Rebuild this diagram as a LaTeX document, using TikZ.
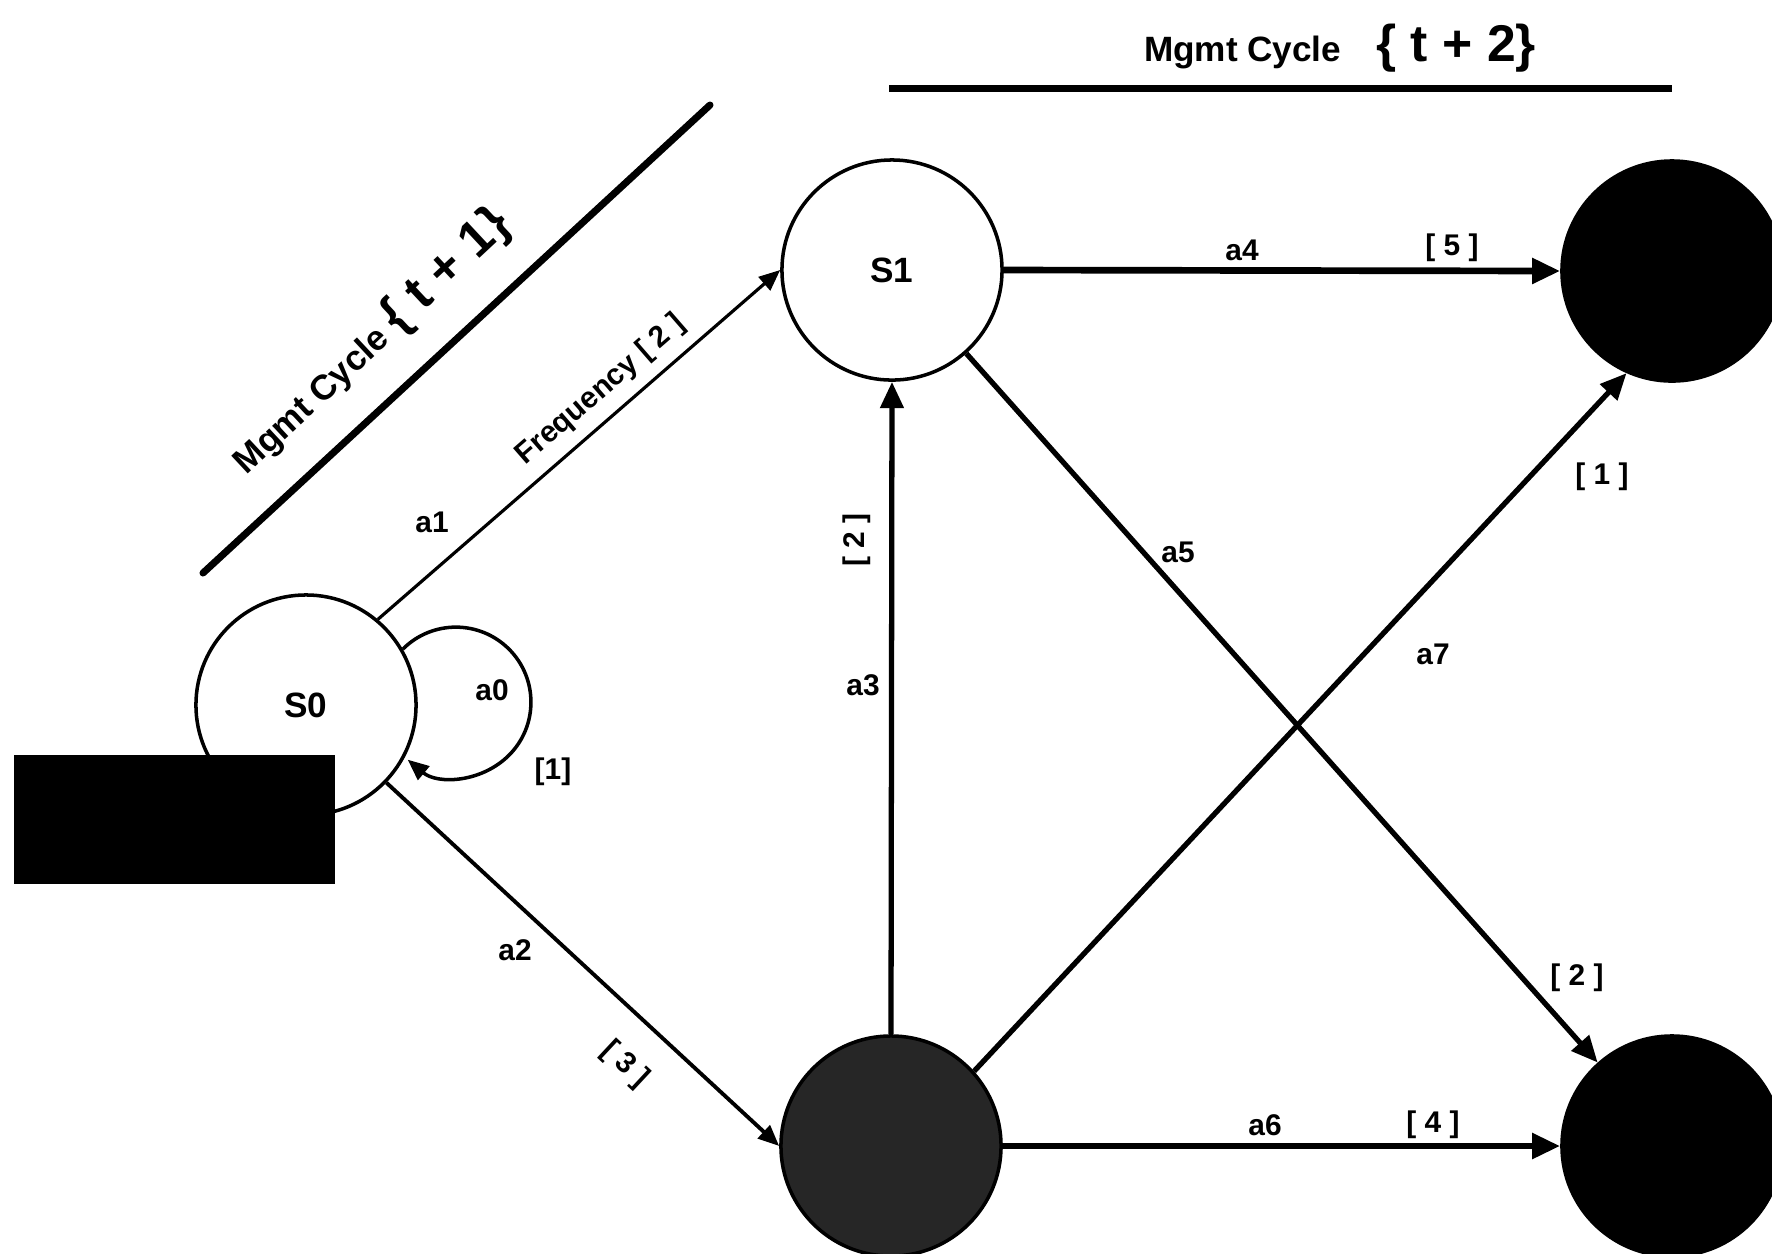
\documentclass[tikz,border=0pt]{standalone}
\usepackage{fontspec}
\setmainfont{Liberation Sans}
\usetikzlibrary{arrows.meta}

\begin{document}
\begin{tikzpicture}[x=0.01cm,y=-0.01cm,
        state/.style={circle,draw,line width=1pt,minimum size=2.2cm,inner sep=0pt,
            font=\fontsize{10}{12}\selectfont\bfseries},
        lbl/.style={inner sep=0pt,font=\fontsize{8.5}{10}\selectfont\bfseries},
        cycle/.style={line width=2pt},
        thin edge/.style={line width=1pt,-{Triangle[length=6pt,width=5pt]}},
        mid edge/.style={line width=1.5pt,-{Triangle[length=7.5pt,width=6.5pt]}},
        thick edge/.style={line width=1.9pt,-{Triangle[length=8pt,width=7pt]}},
    ]
    \useasboundingbox (0,0) rectangle (1772,1253);

    % states
    \node[state] (s0) at (306,705) {S0};
    \node[state] (s1) at (892,270) {S1};
    \node[state,fill=black!85] (s2) at (891,1146) {};
    \node[state,fill=black] (s3) at (1672,271) {};
    \node[state,fill=black] (s4) at (1672,1146) {};
    \node[fill=black,minimum width=3.21cm,minimum height=1.29cm,inner sep=0pt] (mask) at (174.5,819.5) {};

    % cycle markers
    \coordinate (c1a) at (203,573);
    \coordinate (c1b) at (710,105);
    \coordinate (c2a) at (889,88);
    \coordinate (c2b) at (1672,88);
    \draw[cycle,line cap=round] (c1a) -- (c1b);
    \draw[cycle] (c2a) -- (c2b);
    \node[rotate=43,inner sep=0pt,font=\fontsize{10}{12}\selectfont\bfseries] (t1) at (371,342)
        {Mgmt Cycle {\fontsize{14.5}{16}\selectfont\{ t + 1\}}};
    \node[anchor=base,inner sep=0pt,font=\fontsize{10}{12}\selectfont\bfseries] (t2) at (1340,61)
        {Mgmt Cycle\quad{\fontsize{14.7}{16}\selectfont\{ t + 2\}}};

    % transitions
    \draw[thin edge] (s0.30) arc[start angle=135,end angle=-130,radius=0.75cm];
    \draw[thin edge,line width=0.9pt] (s0.50) -- (s1.west);
    \draw[thin edge,line width=1.1pt] (s0.-44) -- (s2.west);
    \draw[mid edge] (s2.north) -- (s1.south);
    \draw[thick edge] (s1.east) -- (s3.west);
    \draw[mid edge] (s1) -- (s4);
    \draw[thick edge] (s2.east) -- (s4.west);
    \draw[mid edge] (s2.42) -- (s3.-114);

    % labels
    \node[lbl] (l0) at (492,690) {a0};
    \node[lbl] (w0) at (553,772) {[1]};
    \node[lbl] (l1) at (432,522) {a1};
    \node[lbl,rotate=41] (w1) at (601,390) {Frequency [ 2 ]};
    \node[lbl] (l2) at (515,950) {a2};
    \node[lbl,rotate=-43] (w2) at (625,1065) {[ 3 ]};
    \node[lbl] (l3) at (863,685) {a3};
    \node[lbl,rotate=90] (w3) at (857,540) {[ 2 ]};
    \node[lbl] (l4) at (1242,250) {a4};
    \node[lbl] (w4) at (1452,248) {[ 5 ]};
    \node[lbl] (l5) at (1178,552) {a5};
    \node[lbl] (w5) at (1577,978) {[ 2 ]};
    \node[lbl] (l6) at (1265,1125) {a6};
    \node[lbl] (w6) at (1433,1125) {[ 4 ]};
    \node[lbl] (l7) at (1433,654) {a7};
    \node[lbl] (w7) at (1602,477) {[ 1 ]};
\end{tikzpicture}
\end{document}
